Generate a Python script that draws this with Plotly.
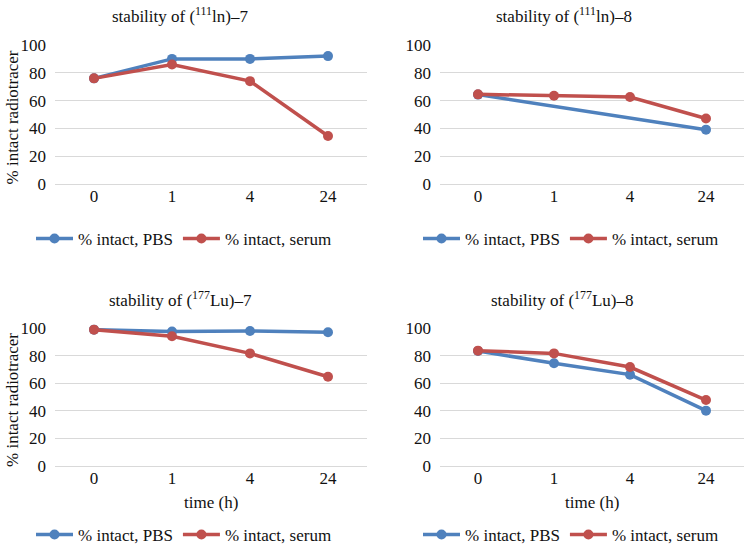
import plotly.graph_objects as go

times = ["0", "1", "4", "24"]
titles = [
    "stability of (<sup>111</sup>ln)–7",
    "stability of (<sup>111</sup>ln)–8",
    "stability of (<sup>177</sup>Lu)–7",
    "stability of (<sup>177</sup>Lu)–8",
]
pbs_in7 = [76, 90, 90, 92]
serum_in7 = [76, 86, 74, 34.5]
pbs_in8 = [64.3, None, None, 39.1]
serum_in8 = [64.5, 63.5, 62.6, 47.1]
pbs_lu7 = [98.8, 97.5, 97.8, 96.9]
serum_lu7 = [98.8, 94, 81.6, 64.7]
pbs_lu8 = [83.3, 74.4, 66.2, 40.1]
serum_lu8 = [83.6, 81.6, 71.7, 47.8]

pbs_sets = [pbs_in7, pbs_in8, pbs_lu7, pbs_lu8]
serum_sets = [serum_in7, serum_in8, serum_lu7, serum_lu8]

BLUE = "#4F81BD"
RED = "#C0504D"
FONT = "Liberation Serif, Times New Roman, serif"
TXT = "#111111"
W, H = 754, 546

def px_x(p):
    return p / W

def px_y(p):
    return 1 - p / H

# panel geometry in pixels: (x0, x1, ytop, ybottom)
panels = [
    (55, 367, 45, 184),
    (440, 744, 45, 184),
    (55, 367, 328, 466),
    (440, 744, 328, 466),
]
title_pos = [(180, 15), (564, 15), (180, 299), (562, 299)]
legend_pos = [(184, 239), (571, 239), (184, 535), (571, 535)]

fig = go.Figure()
layout = dict(
    width=W, height=H,
    margin=dict(l=0, r=0, t=0, b=0, autoexpand=False),
    paper_bgcolor="white", plot_bgcolor="white",
    font=dict(family=FONT, size=17, color=TXT),
    annotations=[],
    showlegend=True,
)

for i in range(4):
    sfx = "" if i == 0 else str(i + 1)
    lg = "legend" if i == 0 else f"legend{i + 1}"
    x0, x1, yt, yb = panels[i]
    fig.add_trace(go.Scatter(
        x=times, y=pbs_sets[i], mode="lines+markers", name="% intact, PBS",
        line=dict(color=BLUE, width=3.5), marker=dict(color=BLUE, size=10),
        connectgaps=True, xaxis=f"x{sfx}", yaxis=f"y{sfx}", legend=lg,
        cliponaxis=False,
    ))
    fig.add_trace(go.Scatter(
        x=times, y=serum_sets[i], mode="lines+markers", name="% intact, serum",
        line=dict(color=RED, width=3.5), marker=dict(color=RED, size=10),
        connectgaps=True, xaxis=f"x{sfx}", yaxis=f"y{sfx}", legend=lg,
        cliponaxis=False,
    ))
    layout[f"xaxis{sfx}"] = dict(
        domain=[px_x(x0), px_x(x1)], anchor=f"y{sfx}", type="category",
        categoryorder="array", categoryarray=times, range=[-0.5, 3.5],
        showgrid=False, showline=False, ticks="", zeroline=False,
        automargin=False,
        tickfont=dict(family=FONT, size=17, color=TXT),
    )
    layout[f"yaxis{sfx}"] = dict(
        domain=[px_y(yb), px_y(yt)], anchor=f"x{sfx}", range=[0, 100],
        tickvals=[0, 20, 40, 60, 80, 100], showgrid=True, gridcolor="#D9D9D9",
        gridwidth=1, zeroline=True, zerolinecolor="#D9D9D9", zerolinewidth=1,
        showline=False, ticks="", ticklabelstandoff=8, automargin=False,
        tickfont=dict(family=FONT, size=17, color=TXT),
    )
    lx, ly = legend_pos[i]
    layout[lg] = dict(
        orientation="h", x=px_x(lx), y=px_y(ly), xanchor="center", yanchor="middle",
        font=dict(family=FONT, size=17, color=TXT), bgcolor="rgba(0,0,0,0)",
        itemwidth=37, tracegroupgap=0,
    )
    tx, ty = title_pos[i]
    layout["annotations"].append(dict(
        text=titles[i], x=px_x(tx), y=px_y(ty), xref="paper", yref="paper",
        xanchor="center", yanchor="middle", showarrow=False,
        font=dict(family=FONT, size=17, color=TXT),
    ))

# y-axis labels for left column
for (yt, yb) in [(45, 184), (328, 466)]:
    layout["annotations"].append(dict(
        text="% intact radiotracer", x=px_x(12), y=px_y((yt + yb) / 2 + 3),
        xref="paper", yref="paper", xanchor="center", yanchor="middle",
        textangle=-90, showarrow=False, font=dict(family=FONT, size=17, color=TXT),
    ))
# x-axis titles for bottom row
for cx in [211, 592]:
    layout["annotations"].append(dict(
        text="time (h)", x=px_x(cx), y=px_y(502), xref="paper", yref="paper",
        xanchor="center", yanchor="middle", showarrow=False,
        font=dict(family=FONT, size=17, color=TXT),
    ))

fig.update_layout(**layout)
fig.write_html(
    "out.html",
    config={"displayModeBar": False},
    post_script="document.body.style.margin='0';document.body.style.overflow='hidden';",
)
